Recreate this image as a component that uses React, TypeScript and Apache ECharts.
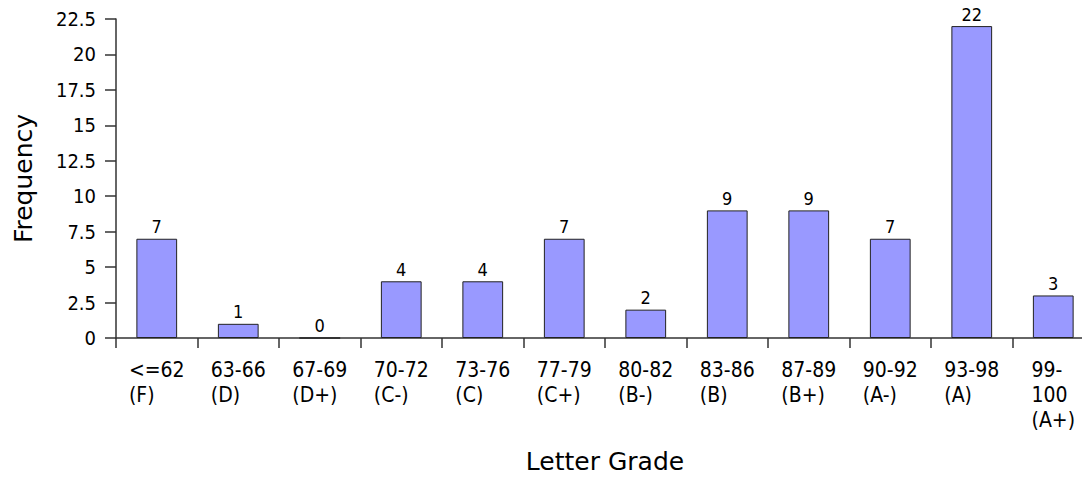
import React, { useEffect, useRef } from "react";
import * as echarts from "echarts";

const rangeLabels = ["<=62", "63-66", "67-69", "70-72", "73-76", "77-79", "80-82", "83-86", "87-89", "90-92", "93-98", "99-\n100"];
const gradeLabels = ["(F)", "(D)", "(D+)", "(C-)", "(C)", "(C+)", "(B-)", "(B)", "(B+)", "(A-)", "(A)", "(A+)"];
const frequencies = [7, 1, 0, 4, 4, 7, 2, 9, 9, 7, 22, 3];
const yTicks = { min: 0, max: 22.5, interval: 2.5 };

const FONT = "'DejaVu Sans Condensed', 'DejaVu Sans', sans-serif";

export default function App() {
  const ref = useRef<HTMLDivElement>(null);
  useEffect(() => {
    if (!ref.current) return;
    const chart = echarts.init(ref.current, null, { renderer: "svg" });
    const categories = rangeLabels.map((r, i) => r + "\n" + gradeLabels[i]);
    chart.setOption({
      animation: false,
      backgroundColor: "#ffffff",
      textStyle: { fontFamily: FONT, color: "#000" },
      grid: { left: 116, top: 19, bottom: 143, right: 0, containLabel: false, outerBoundsMode: "none" },
      xAxis: {
        type: "category",
        data: categories,
        name: "Letter Grade",
        nameLocation: "middle",
        nameGap: 111,
        nameTextStyle: { fontFamily: "'DejaVu Sans', sans-serif", fontSize: 25, color: "#000" },
        axisLine: { lineStyle: { color: "#333", width: 1.5 } },
        axisTick: { show: true, length: 10, alignWithLabel: false, lineStyle: { color: "#333", width: 1.5 } },
        axisLabel: {
          interval: 0,
          margin: 20,
          formatter: (v: string) =>
            v
              .split("\n")
              .map((l) => "{a|" + l + "}")
              .join("\n"),
          rich: {
            a: { fontFamily: FONT, fontSize: 21, lineHeight: 24.6, color: "#000", align: "left" },
          },
        },
        splitLine: { show: false },
      },
      yAxis: {
        type: "value",
        min: yTicks.min,
        max: yTicks.max,
        interval: yTicks.interval,
        name: "Frequency",
        nameLocation: "middle",
        nameGap: 80,
        nameTextStyle: { fontFamily: "'DejaVu Sans', sans-serif", fontSize: 25, color: "#000" },
        axisLine: { show: true, lineStyle: { color: "#333", width: 1.5 } },
        axisTick: { show: true, length: 11, lineStyle: { color: "#333", width: 1.5 } },
        axisLabel: { margin: 20, fontFamily: FONT, fontSize: 20, color: "#000" },
        splitLine: { show: false },
      },
      series: [
        {
          type: "bar",
          data: frequencies,
          barWidth: "50%",
          itemStyle: { color: "#9999ff", borderColor: "#222", borderWidth: 1 },
          label: { show: true, position: "top", distance: 3, fontFamily: FONT, fontSize: 18, color: "#000" },
        },
      ],
    });
    return () => chart.dispose();
  }, []);
  return (
    <div style={{ position: "fixed", left: 0, top: 0, width: 1082, height: 481, overflow: "hidden", background: "#fff" }}>
      <div ref={ref} style={{ position: "absolute", left: 0, top: 0, width: 1094, height: 481 }} />
    </div>
  );
}
